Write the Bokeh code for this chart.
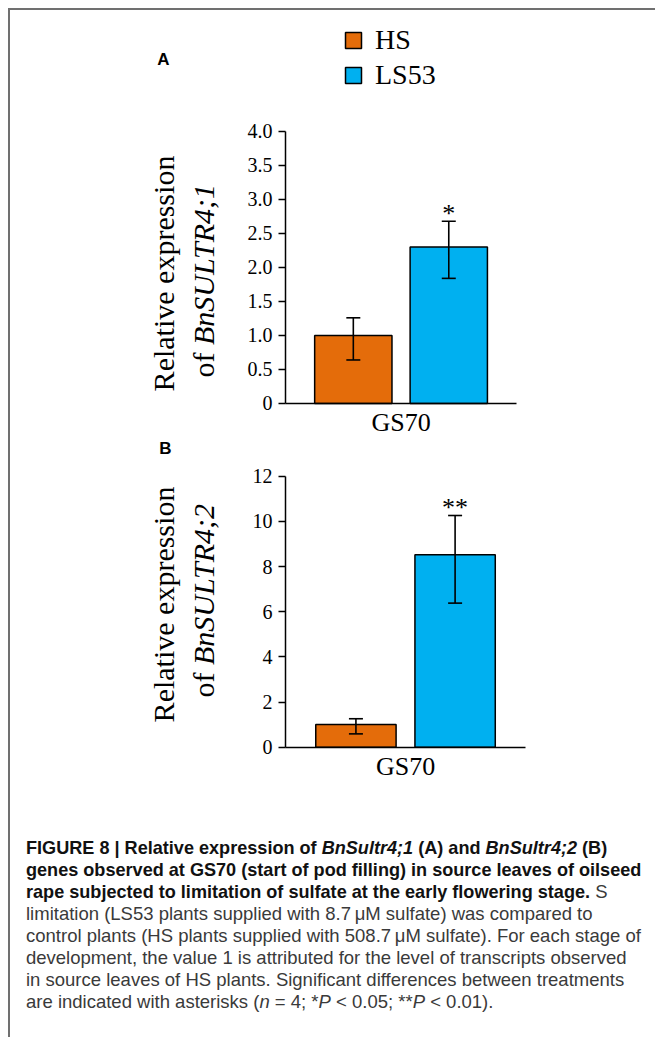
import math
from bokeh.plotting import figure
from bokeh.models import (Range1d, FixedTicker, Whisker, TeeHead, ColumnDataSource,
                          Label, Legend, LegendItem, Div)
from bokeh.layouts import column
from bokeh.embed import file_html
from bokeh.resources import INLINE
from bokeh.core.properties import value

# ---------------- data ----------------
treatments = ["HS", "LS53"]
colors = ["#E46C0A", "#00B0F0"]
stage = ["GS70"]

a_mean = [1.00, 2.30]
a_upper = [1.26, 2.68]
a_lower = [0.64, 1.84]
a_sig = ["", "*"]
a_ticks = [0, 0.5, 1.0, 1.5, 2.0, 2.5, 3.0, 3.5, 4.0]
a_tick_labels = ["0", "0.5", "1.0", "1.5", "2.0", "2.5", "3.0", "3.5", "4.0"]
a_gene = "BnSULTR4;1"

b_mean = [1.00, 8.52]
b_upper = [1.26, 10.26]
b_lower = [0.59, 6.38]
b_sig = ["", "**"]
b_ticks = [0, 2, 4, 6, 8, 10, 12]
b_tick_labels = ["0", "2", "4", "6", "8", "10", "12"]
b_gene = "BnSULTR4;2"

caption_lines = [
    "<b>FIGURE 8 | Relative expression of <i>BnSultr4;1</i> (A) and <i>BnSultr4;2</i> (B)</b>",
    "<b>genes observed at GS70 (start of pod filling) in source leaves of oilseed</b>",
    "<b>rape subjected to limitation of sulfate at the early flowering stage.</b> S",
    "limitation (LS53 plants supplied with 8.7&#8201;&mu;M sulfate) was compared to",
    "control plants (HS plants supplied with 508.7&#8201;&mu;M sulfate). For each stage of",
    "development, the value 1 is attributed for the level of transcripts observed",
    "in source leaves of HS plants. Significant differences between treatments",
    "are indicated with asterisks (<i>n</i> = 4; *<i>P</i> &lt; 0.05; **<i>P</i> &lt; 0.01).",
]

SERIF = "Liberation Serif"
SANS = "Liberation Sans"

BAR_W = 0.81                 # bar width in category units
AX_X0, AX_X1 = -0.71, 1.71   # extent of the drawn x axis
FRAME_W = 577
TITLE_PX = "30px"


def panel(mean, upper, lower, sig, ticks, tick_labels, gene, letter,
          x_range, y_range, frame_h, y_rel, y_of, letter_xy, legend=False):
    src = ColumnDataSource(dict(x=list(range(len(treatments))), top=mean, upper=upper,
                                lower=lower, color=colors, label=treatments, sig=sig))
    p = figure(frame_width=FRAME_W, frame_height=frame_h,
               x_range=Range1d(*x_range), y_range=Range1d(*y_range),
               output_backend="svg", toolbar_location=None,
               min_border_left=60, min_border_right=0,
               min_border_top=0, min_border_bottom=0)
    p.outline_line_color = None
    p.xgrid.visible = False
    p.ygrid.visible = False
    p.background_fill_color = "white"
    p.border_fill_color = "white"

    bars = p.vbar(x="x", top="top", bottom=0, width=BAR_W, fill_color="color",
                  line_color="black", line_width=1.5, source=src)

    w = Whisker(base="x", upper="upper", lower="lower", source=src,
                line_color="black", line_width=1.6, level="overlay",
                upper_head=TeeHead(size=14, line_color="black", line_width=1.6),
                lower_head=TeeHead(size=14, line_color="black", line_width=1.6))
    p.add_layout(w)

    p.text(x="x", y="upper", text="sig", source=src, text_font=value(SERIF),
           text_font_size="26px", text_align="center", text_baseline="alphabetic",
           y_offset=-8, text_color="black")

    # axes (drawn at fixed positions inside the frame)
    ya = p.yaxis[0]
    ya.ticker = FixedTicker(ticks=ticks)
    ya.major_label_overrides = {t: l for t, l in zip(ticks, tick_labels)}
    ya.fixed_location = AX_X0
    ya.bounds = (ticks[0], ticks[-1])
    xa = p.xaxis[0]
    xa.ticker = FixedTicker(ticks=[0.5])
    xa.major_label_overrides = {0.5: stage[0]}
    xa.fixed_location = 0
    xa.bounds = (AX_X0, AX_X1)
    for ax in (xa, ya):
        ax.axis_line_color = "black"
        ax.axis_line_width = 1.5
        ax.major_tick_line_color = "black"
        ax.major_tick_line_width = 1.5
        ax.minor_tick_line_color = None
        ax.major_label_text_font = SERIF
        ax.major_label_text_color = "black"
    ya.major_tick_out = 7
    ya.major_tick_in = 0
    ya.major_label_text_font_size = "20px"
    ya.major_label_standoff = 6
    xa.major_tick_out = 0
    xa.major_tick_in = 0
    xa.major_label_text_font_size = "26px"
    xa.major_label_standoff = 5

    # y axis title (two lines, mixed styles)
    p.add_layout(Label(x=93, y=y_rel, x_units="screen", y_units="screen",
                       text="Relative expression", angle=math.pi / 2,
                       text_font=SERIF, text_font_size=TITLE_PX, text_color="black",
                       text_align="center", text_baseline="middle"))
    p.add_layout(Label(x=133, y=y_of, x_units="screen", y_units="screen",
                       text="of", angle=math.pi / 2,
                       text_font=SERIF, text_font_size=TITLE_PX, text_color="black",
                       text_align="right", text_baseline="middle"))
    p.add_layout(Label(x=133, y=y_of + 7.5, x_units="screen", y_units="screen",
                       text=gene, angle=math.pi / 2, text_font_style="italic",
                       text_font=SERIF, text_font_size=TITLE_PX, text_color="black",
                       text_align="left", text_baseline="middle"))
    p.add_layout(Label(x=letter_xy[0], y=letter_xy[1], x_units="screen", y_units="screen",
                       text=letter, text_font=SANS, text_font_style="bold",
                       text_font_size="17px", text_color="black",
                       text_align="center", text_baseline="middle"))

    if legend:
        items = [LegendItem(label=treatments[i], renderers=[bars], index=i)
                 for i in range(len(treatments))]
        lg = Legend(items=items, location=(273, 347), orientation="vertical",
                    glyph_width=20, glyph_height=20, label_standoff=12, spacing=3,
                    padding=0, margin=0, border_line_color=None,
                    background_fill_alpha=0, label_text_font=SERIF,
                    label_text_font_size="28px", label_text_color="black")
        p.add_layout(lg, "center")
    return p


# panel A: page rows 10..438, y=0 at row 403, 68 px per unit
pA = panel(a_mean, a_upper, a_lower, a_sig, a_ticks, a_tick_labels, a_gene, "A",
           x_range=(-2.963, 3.082), y_range=(-0.5147, 5.779), frame_h=428,
           y_rel=165, y_of=86, letter_xy=(93, 379), legend=True)
# panel B: page rows 438..800, y=0 at row 746.7, 22.58 px per unit
pB = panel(b_mean, b_upper, b_lower, b_sig, b_ticks, b_tick_labels, b_gene, "B",
           x_range=(-2.878, 2.940), y_range=(-2.3605, 13.670), frame_h=362,
           y_rel=196, y_of=128, letter_xy=(95, 352))

cap_html = "".join(
    f'<div style="white-space:nowrap;line-height:22px;">{ln}</div>' for ln in caption_lines)
cap_html = cap_html.replace("<b>", '<b style="color:#111111;font-size:18.1px">')
cap = Div(text=cap_html, width=637, height=230,
          styles={"font-family": "'Liberation Sans', Arial, sans-serif",
                  "font-size": "18.5px", "color": "#3a3a3a", "padding-left": "11px",
                  "padding-top": "32px"})

layout = column(pA, pB, cap,
                styles={"margin-left": "8px", "margin-top": "8px",
                        "border-left": "2px solid #707070", "border-top": "2px solid #707070"})

open("out.html", "w").write(file_html(layout, INLINE))
